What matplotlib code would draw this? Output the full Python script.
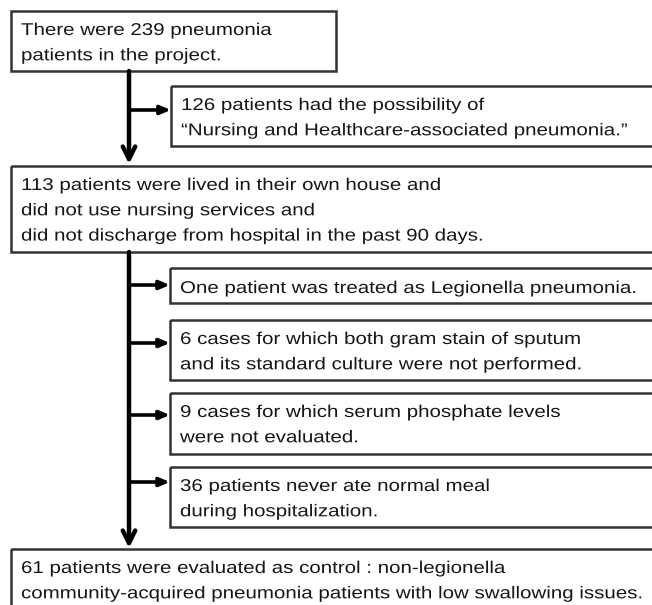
import matplotlib
matplotlib.use("Agg")
import matplotlib.pyplot as plt
from matplotlib.patches import Rectangle
from matplotlib.patheffects import AbstractPathEffect
from matplotlib.transforms import Affine2D

# box texts, one entry per line
main_boxes = [
    ["There were 239 pneumonia", "patients in the project."],
    ["113 patients were lived in their own house and",
     "did not use nursing services and",
     "did not discharge from hospital in the past 90 days."],
    ["61 patients were evaluated as control : non-legionella",
     "community-acquired pneumonia patients with low swallowing issues."],
]
side_boxes = [
    ["126 patients had the possibility of",
     "\u201cNursing and Healthcare-associated pneumonia.\u201d"],
    ["One patient was treated as Legionella pneumonia."],
    ["6 cases for which both gram stain of sputum",
     "and its standard culture were not performed."],
    ["9 cases for which serum phosphate levels",
     "were not evaluated."],
    ["36 patients never ate normal meal",
     "during hospitalization."],
]

# layout in pixels (x0, y_top, width, height)
main_pos = [(11, 11, 325, 60), (11, 166, 700, 86), (11, 549, 700, 90)]
side_pos = [(171, 86, 540, 60), (170, 268, 540, 35), (170, 320, 540, 60),
            (170, 393, 540, 61), (170, 467, 540, 60)]
branch_y = [110, 285, 343, 415, 482]


class Stretch(AbstractPathEffect):
    # the source text is wider than the font, so widen the glyphs a bit
    def __init__(self, sx):
        super().__init__()
        self.sx = sx

    def draw_path(self, renderer, gc, tpath, affine, rgbFace=None):
        renderer.draw_path(gc, tpath, Affine2D().scale(self.sx, 1) + affine, rgbFace)


W, H = 652, 605
fig = plt.figure(figsize=(W / 100, H / 100), dpi=100)
ax = fig.add_axes([0, 0, 1, 1])
ax.set_xlim(0, W)
ax.set_ylim(H, 0)
ax.axis("off")

edge = "#333333"
txt = "#161616"
fs = 12.3
spine_x = 129
wide = [Stretch(1.2)]


def draw_box(pos, lines, first=24, gap=25.3):
    x0, y0, w, h = pos
    ax.add_patch(Rectangle((x0, y0), w, h, fill=False, ec=edge, lw=1.8))
    for i, s in enumerate(lines):
        ax.text(x0 + 10, y0 + first + i * gap, s, fontsize=fs, color=txt,
                family="Liberation Sans", va="baseline", ha="left",
                path_effects=wide)


for pos, lines in zip(main_pos, main_boxes):
    draw_box(pos, lines)
for pos, lines in zip(side_pos, side_boxes):
    draw_box(pos, lines, first=25 if len(lines) == 1 else 24)

# vertical arrows
down = dict(arrowstyle="->,head_length=0.9,head_width=0.45", lw=3.2,
            color="black", shrinkA=0, shrinkB=0)
ax.annotate("", xy=(spine_x, 164), xytext=(spine_x, 71), arrowprops=down)
ax.annotate("", xy=(spine_x, 548), xytext=(spine_x, 252), arrowprops=down)

# side arrows
side = dict(arrowstyle="-|>,head_length=0.6,head_width=0.25", lw=2.6,
            color="black", shrinkA=0, shrinkB=0)
for y, pos in zip(branch_y, side_pos):
    ax.annotate("", xy=(pos[0], y), xytext=(spine_x, y), arrowprops=side)

fig.savefig("out.png", dpi=100, facecolor="white")
